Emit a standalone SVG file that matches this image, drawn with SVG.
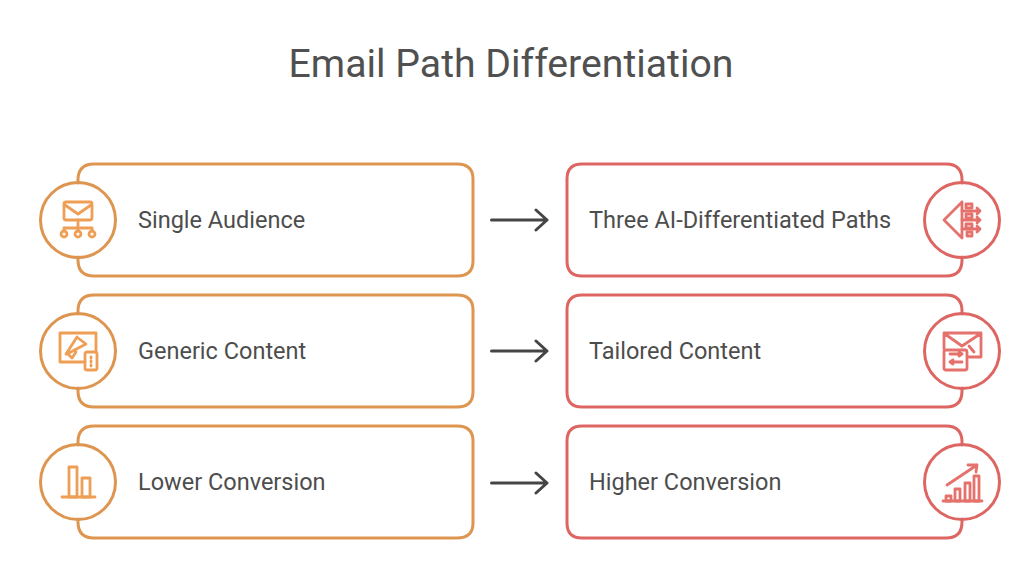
<svg xmlns="http://www.w3.org/2000/svg" width="1024" height="563" viewBox="0 0 1024 563">
<style>
text{font-family:Roboto,"Liberation Sans",sans-serif;fill:#4d4d4d}
.t{font-size:39.2px;text-anchor:middle;fill:#505050}
.l{font-size:23.5px}
.o,.r,.oi,.ri{fill:none;stroke-linecap:round;stroke-linejoin:round}
.o{stroke:#dd9550;stroke-width:3}
.r{stroke:#dd6663;stroke-width:3}
.oi{stroke:#ee9f55;stroke-width:2.8}
.ri{stroke:#e4716c;stroke-width:2.8}
.a{fill:none;stroke:#454545;stroke-width:3;stroke-linecap:round;stroke-linejoin:round}
</style>
<defs>
<path id="lb" d="M78 -37V-40Q78 -56 94 -56H457Q473 -56 473 -41V41Q473 56 457 56H94Q78 56 78 40V37"/>
<path id="rb" d="M962 -37V-40Q962 -56 946 -56H582Q567 -56 567 -41V41Q567 56 582 56H946Q962 56 962 40V37"/>
</defs>
<rect width="1024" height="563" fill="#fff"/>
<text class="t" x="511" y="77">Email Path Differentiation</text>
<g id="left-1" transform="translate(0,220)">
<use href="#lb" class="o"/><circle class="o" cx="78" cy="0" r="37.500"/>
<g class="oi"><rect x="64" y="-18" width="28" height="18" rx="2"/><path d="M65 -15L78 -6L91 -15M78 0V11M64 11V8H92V11"/><circle cx="64" cy="14" r="3"/><circle cx="78" cy="14" r="3"/><circle cx="92" cy="14" r="3"/></g>
<text class="l" x="138" y="7.500">Single Audience</text>
</g>
<g id="left-2" transform="translate(0,351)">
<use href="#lb" class="o"/><circle class="o" cx="78" cy="0" r="37.500"/>
<g class="oi"><path d="M85 11H60V-18H96V1"/><path d="M66 3L77 -14M67 3L86 -7L78 -13M68 3L72 7L76 1"/><rect x="85" y="1" width="12" height="18" rx="2"/><path d="M91 6V7M91 10V11M91 14V15"/></g>
<text class="l" x="138" y="7.500">Generic Content</text>
</g>
<g id="left-3" transform="translate(0,482)">
<use href="#lb" class="o"/><circle class="o" cx="78" cy="0" r="37.500"/>
<g class="oi"><path d="M62 15H95"/><rect x="69" y="-15" width="8" height="30"/><rect x="82" y="-4" width="8" height="19"/></g>
<text class="l" x="138" y="7.500">Lower Conversion</text>
</g>
<g id="right-1" transform="translate(0,220)">
<use href="#rb" class="r"/><circle class="r" cx="962" cy="0" r="37.500"/>
<g class="ri"><path d="M962 -18L944 0L962 18V-18"/><path d="M962 -9H980M977 -12L980 -9L977 -6M962 0H980M977 -3L980 0L977 3M962 9H980M977 6L980 9L977 12"/><rect x="966" y="-16" width="6" height="4"/><rect x="966" y="-6" width="6" height="4"/><rect x="966" y="4" width="6" height="4"/><path d="M967 12H972V16H967Z"/></g>
<text class="l" x="589" y="7.500">Three AI-Differentiated Paths</text>
</g>
<g id="right-2" transform="translate(0,351)">
<use href="#rb" class="r"/><circle class="r" cx="962" cy="0" r="37.500"/>
<g class="ri"><path d="M944 -2V-18H981V6H969M945 -17L962 -5L980 -17M969 -5L974 1"/><rect x="944" y="-1" width="23" height="20" rx="2"/><path d="M950 3H962M959 1L962 3L959 5M950 11H962M953 9L950 11L953 13"/></g>
<text class="l" x="589" y="7.500">Tailored Content</text>
</g>
<g id="right-3" transform="translate(0,482)">
<use href="#rb" class="r"/><circle class="r" cx="962" cy="0" r="37.500"/>
<g class="ri"><path d="M943 19H982M947 3L977 -17M968 -17H977L976 -10"/><rect x="946" y="14" width="5" height="5"/><rect x="955" y="7" width="5" height="12"/><rect x="965" y="1" width="5" height="18"/><rect x="974" y="-6" width="5" height="25"/></g>
<text class="l" x="589" y="7.500">Higher Conversion</text>
</g>
<g id="connectors" class="a">
<path d="M491.500 220H547M536 210L547 220L536 230"/>
<path d="M491.500 351H547M536 341L547 351L536 361"/>
<path d="M491.500 483H547M536 473L547 483L536 493"/>
</g>
</svg>
